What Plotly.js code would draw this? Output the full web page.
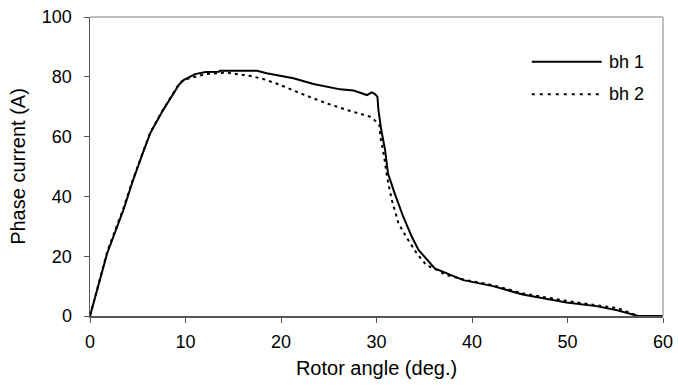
<!DOCTYPE html>
<html><head><meta charset="utf-8">
<script src="https://cdn.plot.ly/plotly-3.0.1.min.js"></script>
<style>body{margin:0;background:#fff}#c{width:678px;height:386px}</style>
</head><body><div id="c"></div>
<script>
const bh1X = [0, 1.8, 3.5, 4.4, 5.45, 6.3, 7.55, 8.4, 9.3, 9.8, 11.0, 12.1, 13.5, 13.6, 17.5, 18.5, 21.3, 23.4, 26.2, 27.6, 29.0, 29.5, 29.85, 30.1, 30.2, 30.5, 30.9, 31.2, 31.9, 32.8, 33.7, 34.4, 35.2, 36.1, 39.1, 42.2, 45.3, 49.9, 53.0, 55.1, 57.4, 60];
const bh1Y = [0, 21, 35.5, 44.4, 53.8, 61.1, 68.3, 72.8, 77.3, 78.9, 80.9, 81.6, 81.7, 82, 82, 81.2, 79.5, 77.6, 75.8, 75.4, 73.9, 74.8, 74.2, 73.3, 68.9, 62.2, 55.5, 47.7, 41, 33.2, 26.5, 22.1, 19.3, 15.9, 12.0, 10.0, 7.2, 4.5, 3.3, 2.0, 0, 0];
const bh2X = [0, 1.8, 3.5, 4.4, 5.45, 6.3, 7.55, 8.4, 9.3, 9.8, 12.1, 14.3, 16.8, 18.2, 19.9, 22.0, 24.8, 26.9, 29.3, 29.8, 30.3, 30.4, 30.8, 31.1, 31.6, 32.3, 33.2, 34.2, 35.2, 36.3, 37.3, 39.1, 42.2, 45.3, 49.2, 53.0, 55.3, 57.4, 60];
const bh2Y = [0, 21.5, 36, 44.8, 54, 61.3, 68.5, 73, 77.5, 79, 80.9, 81.4, 80.3, 79.2, 77.3, 74.5, 71.1, 68.9, 66.7, 65.5, 63.9, 60, 53.3, 46.6, 38.8, 31, 26, 21, 17.1, 15.4, 13.7, 12.2, 10.3, 7.6, 5.4, 3.6, 2.6, 0, 0];
const xTicks = [0, 10, 20, 30, 40, 50, 60];
const yTicks = [0, 20, 40, 60, 80, 100];
const seriesNames = ['bh 1', 'bh 2'];

const font = 'Liberation Sans, Arial, sans-serif';
const data = [
  {x: bh1X, y: bh1Y, name: seriesNames[0], mode: 'lines', line: {color: '#000', width: 2}, showlegend: false},
  {x: bh2X, y: bh2Y, name: seriesNames[1], mode: 'lines', line: {color: '#000', width: 2, dash: '3px,4px'}, showlegend: false}
];
// legend drawn as key samples + labels (paper coordinates)
const legendRows = [
  {name: seriesNames[0], dash: 'solid', y: 0.8505},
  {name: seriesNames[1], dash: '3px,5px', y: 0.7415}
];
const shapes = [
  {type: 'line', xref: 'paper', yref: 'paper', x0: 0, x1: 1, y0: 1, y1: 1, line: {color: '#aaa', width: 1.5}},
  {type: 'line', xref: 'paper', yref: 'paper', x0: 1, x1: 1, y0: 0, y1: 1, line: {color: '#aaa', width: 1.5}}
];
const annotations = [];
legendRows.forEach(r => {
  shapes.push({type: 'line', xref: 'paper', yref: 'paper', x0: 0.771, x1: 0.893, y0: r.y, y1: r.y,
               line: {color: '#000', width: 2, dash: r.dash}});
  annotations.push({xref: 'paper', yref: 'paper', x: 0.9016, y: r.y, xanchor: 'left', yanchor: 'middle',
                    text: r.name, showarrow: false, font: {family: font, size: 18, color: '#000'}});
});
const layout = {
  width: 678, height: 386,
  margin: {l: 89.5, r: 14.5, t: 17, b: 70},
  paper_bgcolor: '#fff', plot_bgcolor: '#fff',
  font: {family: font, size: 18, color: '#000'},
  showlegend: false,
  xaxis: {range: [0, 60], tickvals: xTicks, ticks: 'outside', ticklen: 5, tickcolor: '#555',
          showline: true, linecolor: '#555', linewidth: 1.5, showgrid: false, zeroline: false,
          ticklabelstandoff: 4,
          tickfont: {family: font, size: 18}, title: {text: 'Rotor angle (deg.)', font: {family: font, size: 20}, standoff: 10}},
  yaxis: {range: [0, 100], tickvals: yTicks, ticks: 'outside', ticklen: 5, tickcolor: '#555',
          showline: true, linecolor: '#555', linewidth: 1.5, showgrid: false, zeroline: false,
          ticklabelstandoff: 8,
          tickfont: {family: font, size: 18}, title: {text: 'Phase current (A)', font: {family: font, size: 20}, standoff: 11}},
  shapes: shapes,
  annotations: annotations
};
Plotly.newPlot('c', data, layout, {displayModeBar: false, staticPlot: true});
</script></body></html>
